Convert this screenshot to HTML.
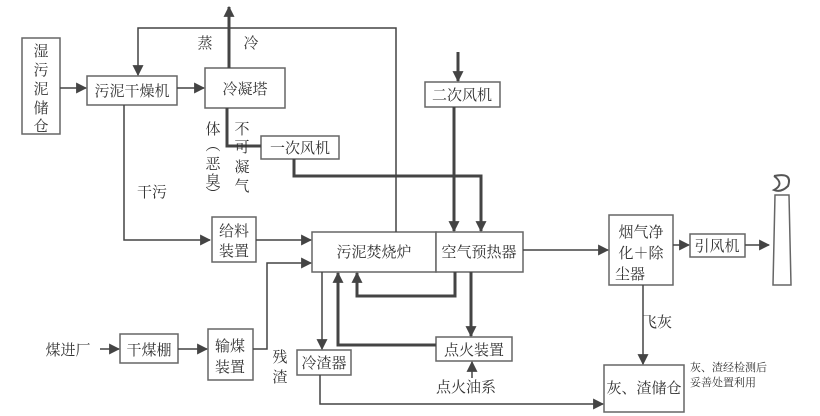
<!DOCTYPE html>
<html><head><meta charset="utf-8"><style>
html,body{margin:0;padding:0;background:#fff;}
svg{display:block}
text{font-family:"Liberation Serif","Noto Serif CJK SC",serif;fill:#333;}
</style></head><body>
<svg width="820" height="416" viewBox="0 0 820 416" xmlns="http://www.w3.org/2000/svg">
<defs>
<marker id="b" viewBox="0 0 10 10" refX="9" refY="5" markerWidth="11" markerHeight="11" orient="auto-start-reverse" markerUnits="userSpaceOnUse"><path d="M0,0L10,5L0,10z" fill="#444"/></marker>
</defs>
<g fill="none" stroke="#444">
<g stroke="#666" stroke-width="1.5" fill="#fff">
<rect x="22" y="38" width="38" height="96"/>
<rect x="87" y="76" width="90" height="29"/>
<rect x="205" y="68" width="80" height="40"/>
<rect x="261" y="136" width="78" height="23"/>
<rect x="425" y="82" width="75" height="25"/>
<rect x="212" y="217" width="44" height="45"/>
<rect x="312" y="232" width="124" height="40"/>
<rect x="436" y="232" width="87" height="40"/>
<rect x="297" y="350" width="54" height="25"/>
<rect x="436" y="337" width="76" height="24"/>
<rect x="208" y="329" width="45" height="51"/>
<rect x="120" y="334" width="58" height="29"/>
<rect x="609" y="215" width="64" height="70"/>
<rect x="690" y="234" width="55" height="23"/>
<rect x="604" y="365" width="80" height="47"/>
</g>
<g stroke-width="1.5">
<polyline points="396,232 396,28 138,28 138,75" marker-end="url(#b)"/>
<line x1="60" y1="88" x2="86" y2="88" marker-end="url(#b)"/>
<line x1="177" y1="88" x2="204" y2="88" marker-end="url(#b)"/>
<polyline points="124,105 124,240 210,240" marker-end="url(#b)"/>
<line x1="256" y1="240" x2="311" y2="240" marker-end="url(#b)"/>
<polyline points="253,349 267,349 267,263 311,263" marker-end="url(#b)"/>
<line x1="100" y1="349" x2="119" y2="349" marker-end="url(#b)"/>
<line x1="178" y1="349" x2="207" y2="349" marker-end="url(#b)"/>
<line x1="322" y1="272" x2="322" y2="349" marker-end="url(#b)"/>
<line x1="472" y1="378" x2="472" y2="362" marker-end="url(#b)"/>
<polyline points="320,375 320,404 603,404" marker-end="url(#b)"/>
<line x1="523" y1="250" x2="608" y2="250" marker-end="url(#b)"/>
<line x1="673" y1="245" x2="689" y2="245" marker-end="url(#b)"/>
<line x1="745" y1="245" x2="769" y2="245" marker-end="url(#b)"/>
<line x1="643" y1="285" x2="643" y2="364" marker-end="url(#b)"/>
</g>
<g stroke-width="3">
<line x1="229" y1="68" x2="229" y2="7" marker-end="url(#b)"/>
<polyline points="227,108 227,146 261,146"/>
<polyline points="294,159 294,176 481,176 481,231" marker-end="url(#b)"/>
<line x1="458" y1="52" x2="458" y2="81" marker-end="url(#b)"/>
<line x1="454" y1="107" x2="454" y2="231" marker-end="url(#b)"/>
<polyline points="455,272 455,296 357,296 357,273" marker-end="url(#b)"/>
<line x1="471" y1="272" x2="471" y2="336" marker-end="url(#b)"/>
<polyline points="436,345 338,345 338,273" marker-end="url(#b)"/>
</g>
<path d="M775,195 L789,195 L791,285 L773,285 Z" stroke="#666" stroke-width="1.5"/>
<path d="M774,176 Q793,172 788,186 Q781,193 774,190 Q785,184 774,176" stroke="#555" stroke-width="2"/>
</g>
<g font-size="15">
<text x="41" y="56" text-anchor="middle">湿</text>
<text x="41" y="75" text-anchor="middle">污</text>
<text x="41" y="94" text-anchor="middle">泥</text>
<text x="41" y="113" text-anchor="middle">储</text>
<text x="41" y="131" text-anchor="middle">仓</text>
<text x="132" y="96" text-anchor="middle">污泥干燥机</text>
<text x="245" y="94" text-anchor="middle">冷凝塔</text>
<text x="300" y="153" text-anchor="middle">一次风机</text>
<text x="462" y="100" text-anchor="middle">二次风机</text>
<text x="234" y="236" text-anchor="middle">给料</text>
<text x="234" y="256" text-anchor="middle">装置</text>
<text x="374" y="257" text-anchor="middle">污泥焚烧炉</text>
<text x="479" y="257" text-anchor="middle">空气预热器</text>
<text x="324" y="368" text-anchor="middle">冷渣器</text>
<text x="474" y="355" text-anchor="middle">点火装置</text>
<text x="466" y="392" text-anchor="middle">点火油系</text>
<text x="230" y="351" text-anchor="middle">输煤</text>
<text x="230" y="372" text-anchor="middle">装置</text>
<text x="149" y="355" text-anchor="middle">干煤棚</text>
<text x="68" y="355" text-anchor="middle">煤进厂</text>
<text x="641" y="237" text-anchor="middle">烟气净</text>
<text x="641" y="258" text-anchor="middle">化＋除</text>
<text x="630" y="279" text-anchor="middle">尘器</text>
<text x="717" y="251" text-anchor="middle">引风机</text>
<text x="644" y="393" text-anchor="middle">灰、渣储仓</text>
<text x="205" y="48" text-anchor="middle">蒸</text>
<text x="251" y="48" text-anchor="middle">冷</text>
<text x="152" y="197" text-anchor="middle">干污</text>
<text x="657" y="327" text-anchor="middle">飞灰</text>
<text x="213" y="134" text-anchor="middle">体</text>
<text x="213" y="150" text-anchor="middle">︵</text>
<text x="213" y="169" text-anchor="middle">恶</text>
<text x="213" y="186" text-anchor="middle">臭</text>
<text x="213" y="199" text-anchor="middle">︶</text>
<text x="242" y="134" text-anchor="middle">不</text>
<text x="242" y="152" text-anchor="middle">可</text>
<text x="242" y="172" text-anchor="middle">凝</text>
<text x="242" y="191" text-anchor="middle">气</text>
<text x="280" y="362" text-anchor="middle">残</text>
<text x="280" y="382" text-anchor="middle">渣</text>
</g>
<g font-size="11">
<text x="690" y="371">灰、渣经检测后</text>
<text x="690" y="386">妥善处置利用</text>
</g>
</svg>
</body></html>
